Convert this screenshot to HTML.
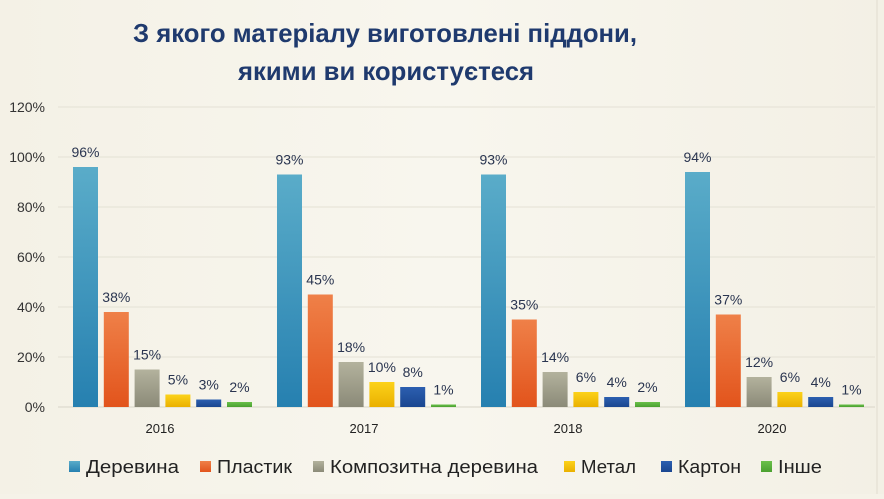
<!DOCTYPE html>
<html><head><meta charset="utf-8"><style>
body{margin:0;width:884px;height:494px;overflow:hidden;background:#f5f2e8;font-family:"Liberation Sans",sans-serif}
</style></head><body>
<svg width="884" height="494" xmlns="http://www.w3.org/2000/svg">
<defs>
<linearGradient id="bg" x1="0" y1="0" x2="1" y2="0"><stop offset="0" stop-color="#f4f1e6"/><stop offset="0.5" stop-color="#f8f6ee"/><stop offset="1" stop-color="#f3f0e5"/></linearGradient>
<linearGradient id="g0" x1="0" y1="0" x2="0" y2="1"><stop offset="0" stop-color="#5aacc9"/><stop offset="1" stop-color="#2680b0"/></linearGradient>
<linearGradient id="g1" x1="0" y1="0" x2="0" y2="1"><stop offset="0" stop-color="#ef8048"/><stop offset="1" stop-color="#e2541c"/></linearGradient>
<linearGradient id="g2" x1="0" y1="0" x2="0" y2="1"><stop offset="0" stop-color="#b3b29d"/><stop offset="1" stop-color="#8b8a78"/></linearGradient>
<linearGradient id="g3" x1="0" y1="0" x2="0" y2="1"><stop offset="0" stop-color="#fcd21a"/><stop offset="1" stop-color="#eab000"/></linearGradient>
<linearGradient id="g4" x1="0" y1="0" x2="0" y2="1"><stop offset="0" stop-color="#2c5fb0"/><stop offset="1" stop-color="#1a4690"/></linearGradient>
<linearGradient id="g5" x1="0" y1="0" x2="0" y2="1"><stop offset="0" stop-color="#6ac04a"/><stop offset="1" stop-color="#4aa030"/></linearGradient>
</defs>
<rect width="884" height="494" fill="url(#bg)"/>
<line x1="877" y1="0" x2="877" y2="494" stroke="#e0dccf" stroke-width="1"/>
<text x="133" y="42" textLength="504" lengthAdjust="spacingAndGlyphs" font-size="26" font-weight="bold" fill="#1f3a6e">З якого матеріалу виготовлені піддони,</text>
<text x="238" y="80" textLength="296" lengthAdjust="spacingAndGlyphs" font-size="26" font-weight="bold" fill="#1f3a6e">якими ви користуєтеся</text>
<g id="grid"></g><g id="bars"></g><g id="legend"></g>
</svg>
<script>
const categories=["2016","2017","2018","2020"];
const series=["Деревина","Пластик","Композитна деревина","Метал","Картон","Інше"];
const s0=[96,93,93,94];
const s1=[38,45,35,37];
const s2=[15,18,14,12];
const s3=[5,10,6,6];
const s4=[3,8,4,4];
const s5=[2,1,2,1];
const ticks=[0,20,40,60,80,100,120];
const vals=[s0,s1,s2,s3,s4,s5];
const NS="http://www.w3.org/2000/svg";
const y=v=>407-v*2.5;
const gx=i=>58+i*204;
function mk(t,a,p,txt){const e=document.createElementNS(NS,t);for(const k in a)e.setAttribute(k,a[k]);if(txt!==undefined)e.textContent=txt;p.appendChild(e);return e;}
const grid=document.getElementById('grid'),bars=document.getElementById('bars'),leg=document.getElementById('legend');
ticks.forEach(t=>{
 const l=mk('line',{x1:58,x2:875,y1:y(t),y2:y(t),stroke:t?'#e4e1d5':'#d8d5c8','stroke-width':1},grid);
 
 
 const tx=mk('text',{x:45,y:y(t)+5,'text-anchor':'end','font-size':14,fill:'#333'},grid,t+'%');
 
 
});
categories.forEach((c,i)=>{
 const tx=mk('text',{x:gx(i)+102,y:433,'text-anchor':'middle','font-size':13,fill:'#222'},grid,c);
 
 
 vals.forEach((s,j)=>{
  const x=gx(i)+15+j*30.8,v=s[i];
  const r=mk('rect',{x:x,y:y(v),width:25,height:v*2.5,fill:'url(#g'+j+')'},bars);
  
  
  const t=mk('text',{x:x+12.5,y:y(v)-10,'text-anchor':'middle','font-size':14,fill:'#2a3550'},bars,v+'%');
  
  
 });
});
const lx=[69,200,313,564,661,761];
const lw=[93,75,208,55,63,44];
series.forEach((n,j)=>{
 const r=mk('rect',{x:lx[j],y:461,width:11,height:11,fill:'url(#g'+j+')'},leg);
 
 
 const t=mk('text',{x:lx[j]+17,y:473,'font-size':18,fill:'#222',textLength:lw[j],lengthAdjust:'spacingAndGlyphs'},leg,n);
 
 
});
</script>
</body></html>
